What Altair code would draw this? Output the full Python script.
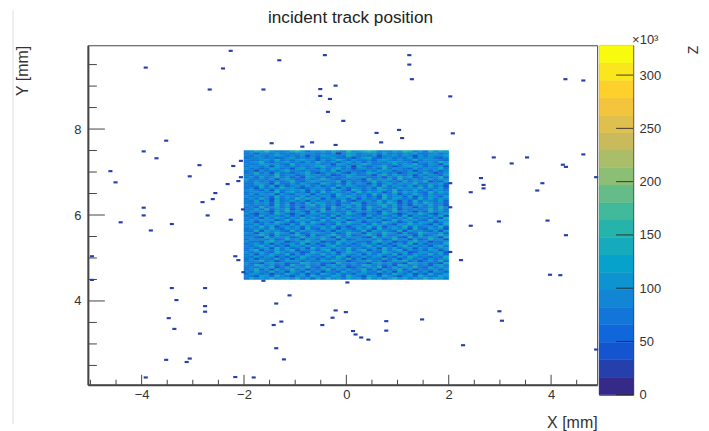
import altair as alt
import pandas as pd

alt.data_transformers.disable_max_rows()

TITLE = "incident track position"
X_TITLE = "X [mm]"
Y_TITLE = "Y [mm]"
Z_TITLE = "Z"
Z_EXP = "×10³"

# 20 colour levels of the Z palette, bottom to top
LEVEL_COLORS = ["#352a87", "#253fab", "#1554cf", "#1066db", "#1275d8", "#1285d5", "#0d94d0",
                "#07a2cb", "#15abbc", "#26b3ac", "#41b99b", "#66bc88", "#8bbf76", "#aabd69",
                "#c9bb5c", "#dfbf4d", "#f2c53c", "#fdd02c", "#fbe51c", "#f9fb0e"]
Z_MAX = 328.0
Z_TICKS = [0, 50, 100, 150, 200, 250, 300]

# isolated hits outside the beam spot (bin centres, mm)
HIT_X = [-2.26, -0.42, -1.31, -3.92, -2.41, -0.21, -2.67, -1.62, -0.51, -0.51, -0.32, -0.36, -0.06,
         -3.52, -1.46, -0.67, -0.86, -0.21, 1.23, 1.23, 1.28, 4.28, 4.63, 2.03, 0.59, 1.03, 1.09,
         0.68, 2.08, -3.96, -3.71, -2.87, -2.21, -2.06, -4.61, -3.06, -4.51, -2.06, -2.11, -2.32,
         -2.56, -2.61, -2.81, -3.96, -3.96, -2.71, -2.02, -2.26, -4.41, -3.41, -3.82, -4.97, -2.17,
         -2.11, -2.01, -4.97, 2.88, 3.53, 4.63, 3.23, 4.23, 4.29, 4.88, 2.63, 3.83, 2.68, 2.68,
         2.43, 3.73, 2.03, 2.03, 2.98, 3.93, 2.43, 4.29, 2.03, 2.24, 3.98, 4.18, -1.62, 0.02,
         -3.41, -2.76, -1.11, -3.32, -1.37, -2.76, -2.76, -0.21, -0.01, -0.27, -3.47, -1.27, -1.42,
         -0.47, -3.36, -2.86, -1.37, -3.52, -1.22, -3.06, -3.12, -3.92, -2.17, -1.81, 0.13, 0.18,
         0.29, 0.43, 0.78, 0.78, 1.48, 2.28, 2.99, 3.04, 4.88]
HIT_Y = [9.82, 9.72, 9.60, 9.43, 9.41, 9.01, 8.92, 8.92, 8.93, 8.77, 8.70, 8.40, 8.19,
         7.73, 7.67, 7.69, 7.59, 7.63, 9.72, 9.50, 9.16, 9.16, 9.13, 8.76, 7.91, 7.98, 7.79,
         7.69, 7.90, 7.48, 7.32, 7.16, 7.14, 7.26, 7.02, 6.90, 6.76, 6.88, 6.79, 6.72,
         6.51, 6.37, 6.30, 6.17, 5.99, 5.99, 6.13, 5.89, 5.83, 5.79, 5.64, 5.04, 5.04,
         4.95, 4.67, 4.49, 7.34, 7.34, 7.41, 7.20, 7.17, 7.12, 6.88, 6.86, 6.74, 6.70, 6.62,
         6.53, 6.57, 6.74, 6.18, 5.85, 5.87, 5.75, 5.53, 5.14, 4.95, 4.61, 4.60, 4.47, 4.43,
         4.30, 4.30, 4.13, 4.02, 3.94, 3.88, 3.75, 3.78, 3.74, 3.61, 3.60, 3.52, 3.44,
         3.44, 3.35, 3.24, 2.90, 2.63, 2.64, 2.66, 2.58, 2.22, 2.23, 2.22, 3.30, 3.22,
         3.15, 3.10, 3.53, 3.31, 3.57, 2.97, 3.76, 3.54, 2.87]

# beam spot: colour level per bin, top row (y = 7.5) first
SPOT_ROWS = [
    "5687965568974657586596789856576985749687",
    "4535546454565545461576456647454657445645",
    "5465457645462547655486454625564652646557",
    "4556453467454635574452578435645473656435",
    "5445648454675526458536445367546448465543",
    "4568435574536485463574636454675542556486",
    "5447656438455564527645586445474658436527",
    "4654627546454578545461743568424675635462",
    "6453476452674536468452564538465437465584",
    "4526454685546457483654436475635462554635",
    "4584627453568424657426458746452467485246",
    "5465548456347564623576445268475462646537",
    "4637458463527645354475664452648573464583",
    "7445462675346458643545428465738446457465",
    "5464536458435764558264535846453746582437",
    "4476528446475438645374652635746558446573",
    "5458472635647463548576445738465473648452",
    "4527464856424565482635546385447565846473",
    "5643627456572646357428635476483547463654",
    "4565448367452638475463847562484756438475",
    "4636572643657264538546453847462548536454",
    "6454538465473646527585463528456372646537",
    "4648527464958572645637264538476453847465",
    "5473628457462645563842556484752638465473",
    "4465637462538476453548625574862537486453",
    "6454528473546847452664735468473526647452",
    "4538457463625546385474638547463652546485",
    "5474836582546458274635627463582546458474",
    "4656427485642738564473656427485642538564",
    "6425538642573664457486425538642475864257",
    "4538465473626547482654538465473826547482",
    "5462647536484753628475462647536484553628",
    "4647562484756438475623647562484756438475",
    "6524538652473865447386524538652473665247",
    "4473656427385642538564473856427585642738",
    "5648472564637456483525648472564837456483",
    "4556484375628437562643756284575628437562",
    "4482756438475643627564482756438275643627",
    "6527548652734665473486527548652734865473",
    "4468527446852734685473468527446652734685",
    "5532846573484657528465532846573284657528",
    "4656473485627548562734656473485627348562",
    "6443785624578562437656443785624378562447",
    "4574626457482635748463574626357482635548",
    "5468473526647452684535468473526847452684",
    "4535628473462847556484535628473562647456",
    "4682547468254536825473682547468254536625",
    "6457438645523864572586457438645723664572",
    "4626475482637548463754626475482637548463",
    "5474662537486453748625474662537486453548",
    "4625548462574636457483625548462574636457",
    "4568452476635447685524568452476835247483",
    "6442675634487563428556442675634287563428",
    "5487463528546452674635487463528746452674",
    "4546582474658437465623546582474658437465",
    "4583627458462545836474583627458362545636",
    "6475484627538462553846475484627538462653",
    "4664525486472538647453664525486472538447",
    "5427638542563854476385427638542563854476",
    "4756585675846374856475638574685746585764",
]

X_MAJOR = [-4, -2, 0, 2, 4]
X_TICKS = [-5, -4.5, -4, -3.5, -3, -2.5, -2, -1.5, -1, -0.5, 0, 0.5, 1, 1.5, 2, 2.5, 3, 3.5, 4, 4.5]
Y_MAJOR = [4, 6, 8]
Y_TICKS = [2.5, 3, 3.5, 4, 4.5, 5, 5.5, 6, 6.5, 7, 7.5, 8, 8.5, 9, 9.5]

FONT = "Liberation Sans"
INK = "#444444"

cells = []
for r, row in enumerate(SPOT_ROWS):
    for c, ch in enumerate(row[:40]):
        x0 = -2 + c * 0.1
        y1 = 7.5 - r * 0.05
        cells.append({"x": x0, "x2": x0 + 0.1, "y": y1 - 0.05, "y2": y1, "color": LEVEL_COLORS[int(ch)]})
cells = pd.DataFrame(cells)
hits = pd.DataFrame({"x": [v - 0.04 for v in HIT_X], "x2": [v + 0.04 for v in HIT_X],
                     "y": [v - 0.025 for v in HIT_Y], "y2": [v + 0.025 for v in HIT_Y]})

xs = alt.Scale(domain=[-5.05, 4.9], nice=False, zero=False)
ys = alt.Scale(domain=[2.05, 9.95], nice=False, zero=False)

heat = alt.Chart(cells).mark_rect(strokeWidth=0.5).encode(
    x=alt.X("x:Q", scale=xs, axis=alt.Axis(
        values=X_MAJOR, grid=False, ticks=False, format="d", labelFont=FONT, labelFontSize=13,
        labelColor="#333333", labelPadding=4, domainColor=INK, domainWidth=2,
        title=X_TITLE, titleFont=FONT, titleFontSize=16, titleFontWeight="normal", titleColor="#333333",
        titleAnchor="end", titleAlign="right", titleX=510, titleY=43, titleBaseline="alphabetic")),
    x2="x2:Q",
    y=alt.Y("y:Q", scale=ys, axis=alt.Axis(
        values=Y_MAJOR, grid=False, ticks=False, format="d", labelFont=FONT, labelFontSize=13,
        labelColor="#333333", labelPadding=7, domainColor=INK, domainWidth=2,
        title=Y_TITLE, titleFont=FONT, titleFontSize=16, titleFontWeight="normal", titleColor="#333333",
        titleAngle=270, titleAlign="right", titleX=-60, titleY=0, titleBaseline="alphabetic")),
    y2="y2:Q",
    color=alt.Color("color:N", scale=None),
    stroke=alt.Stroke("color:N", scale=None),
)
hit_marks = alt.Chart(hits).mark_rect(color=LEVEL_COLORS[1], strokeWidth=0).encode(
    x=alt.X("x:Q", scale=xs), x2="x2:Q", y=alt.Y("y:Q", scale=ys), y2="y2:Q")

xt = pd.DataFrame({"v": X_TICKS, "major": [v in X_MAJOR for v in X_TICKS]})
yt = pd.DataFrame({"v": Y_TICKS, "major": [v in Y_MAJOR for v in Y_TICKS]})
x_major = alt.Chart(xt[xt.major]).mark_rule(color=INK, strokeWidth=1).encode(
    x=alt.X("v:Q", scale=xs), y=alt.value(340), y2=alt.value(330))
x_minor = alt.Chart(xt[~xt.major]).mark_rule(color=INK, strokeWidth=1).encode(
    x=alt.X("v:Q", scale=xs), y=alt.value(340), y2=alt.value(335))
y_major = alt.Chart(yt[yt.major]).mark_rule(color=INK, strokeWidth=1).encode(
    y=alt.Y("v:Q", scale=ys), x=alt.value(0), x2=alt.value(17))
y_minor = alt.Chart(yt[~yt.major]).mark_rule(color=INK, strokeWidth=1).encode(
    y=alt.Y("v:Q", scale=ys), x=alt.value(0), x2=alt.value(9))

one = pd.DataFrame({"t": [TITLE]})
title = alt.Chart(one).mark_text(font=FONT, fontSize=17.2, color="#222222", align="center", baseline="middle").encode(
    x=alt.value(263), y=alt.value(-27.2), text="t:N")
edge = alt.Chart(one).mark_rule(color="#dddddd", strokeWidth=1).encode(
    x=alt.value(-75), y=alt.value(-35), y2=alt.value(379))

left = alt.layer(heat, hit_marks, x_major, x_minor, y_major, y_minor, title, edge).properties(width=510, height=340)

# colour bar
step = Z_MAX / len(LEVEL_COLORS)
bands = pd.DataFrame({"lo": [i * step for i in range(len(LEVEL_COLORS))],
                      "hi": [(i + 1) * step for i in range(len(LEVEL_COLORS))],
                      "color": LEVEL_COLORS})
zs = alt.Scale(domain=[0, Z_MAX], nice=False, zero=False)
bar = alt.Chart(bands).mark_rect(strokeWidth=0.5).encode(
    x=alt.value(0), x2=alt.value(34),
    y=alt.Y("lo:Q", scale=zs, axis=alt.Axis(
        orient="right", values=Z_TICKS, grid=False, ticks=False, labelFont=FONT, labelFontSize=13,
        labelColor="#333333", labelPadding=6, domainColor=INK, domainWidth=1,
        title=Z_TITLE, titleFont=FONT, titleFontSize=14, titleFontWeight="normal", titleColor="#333333",
        titleAngle=270, titleAlign="right", titleX=60, titleY=0, titleBaseline="middle")),
    y2="hi:Q",
    color=alt.Color("color:N", scale=None),
    stroke=alt.Stroke("color:N", scale=None),
)
z_ticks = alt.Chart(pd.DataFrame({"v": Z_TICKS})).mark_rule(color="#222222", strokeWidth=1, opacity=0.85).encode(
    y=alt.Y("v:Q", scale=zs), x=alt.value(17), x2=alt.value(34))
z_exp = alt.Chart(pd.DataFrame({"t": [Z_EXP]})).mark_text(
    font=FONT, fontSize=13, color="#333333", align="left", baseline="middle").encode(
    x=alt.value(33), y=alt.value(-5), text="t:N")
right = alt.layer(bar, z_ticks, z_exp).properties(width=34, height=350)

chart = alt.hconcat(left, right, spacing=2, bounds="flush").properties(
    padding={"left": 4, "top": 0, "right": 0, "bottom": 0}
).configure_view(stroke=INK, strokeWidth=1)

chart.save("out.html", embed_options={"renderer": "svg", "actions": False})
